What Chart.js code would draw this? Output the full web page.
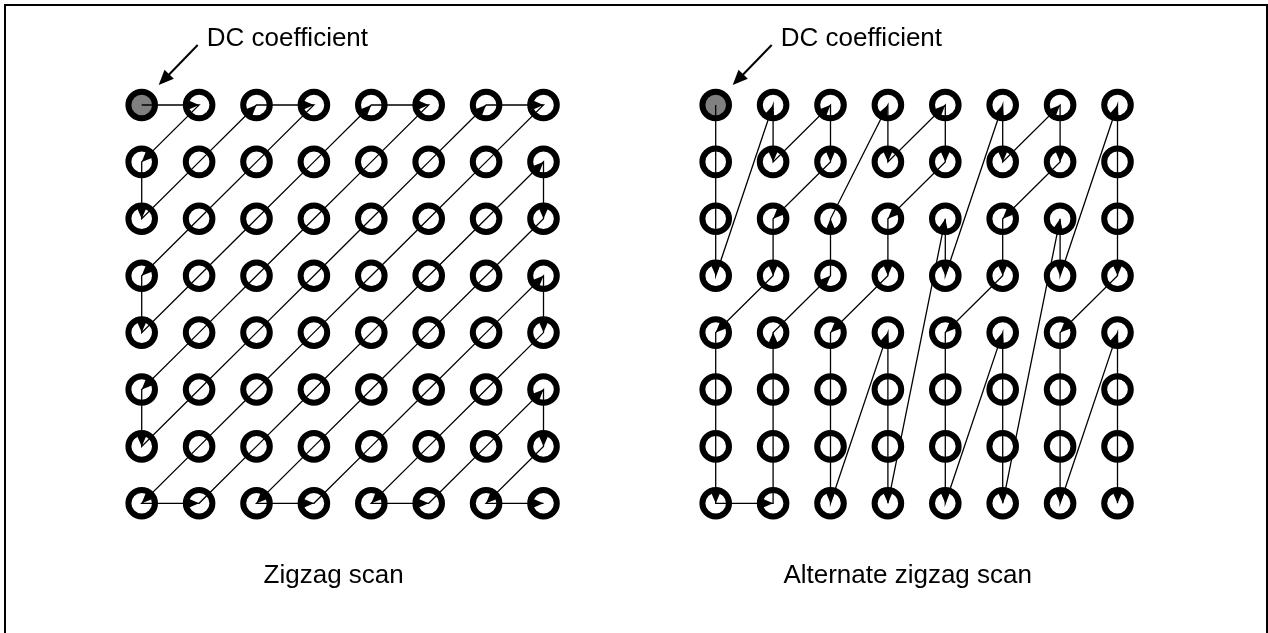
<!doctype html>
<html>

<head>
    <title>Zigzag scan</title>
    <script src="https://cdn.jsdelivr.net/npm/chart.js"></script>
</head>

<style>
    body { margin: 0; background: #fff; }
    #wrap { position: absolute; left: 0; top: 0; width: 1268px; height: 633px; overflow: hidden; }
    #frame { position: absolute; left: 4px; top: 4px; width: 1264px; height: 700px; border: 2px solid #000; box-sizing: border-box; }
    #scan { position: absolute; left: 0; top: 0; }
    .lbl { position: absolute; font-family: "Liberation Sans", Arial, sans-serif; font-size: 26px; line-height: 26px; white-space: nowrap; color: #000; }
</style>

<body>
    <div id="wrap">
        <div id="frame"></div>
        <canvas id="scan" width="1268" height="633"></canvas>
    </div>

    <script>
        // scan orders, cell index = row * 8 + col
        var zigzagOrder = [0, 1, 8, 16, 9, 2, 3, 10, 17, 24, 32, 25, 18, 11, 4, 5, 12, 19, 26, 33, 40, 48, 41, 34, 27, 20, 13, 6, 7, 14, 21, 28,
            35, 42, 49, 56, 57, 50, 43, 36, 29, 22, 15, 23, 30, 37, 44, 51, 58, 59, 52, 45, 38, 31, 39, 46, 53, 60, 61, 54, 47, 55, 62, 63];
        var alternateOrder = [0, 8, 16, 24, 1, 9, 2, 10, 17, 25, 32, 40, 48, 56, 57, 49, 41, 33, 26, 18, 3, 11, 4, 12, 19, 27, 34, 42, 50, 58, 35, 43,
            51, 59, 20, 28, 5, 13, 6, 14, 21, 29, 36, 44, 52, 60, 37, 45, 53, 61, 22, 30, 7, 15, 23, 31, 38, 46, 54, 62, 39, 47, 55, 63];
        var panelOffsets = [0, 10];
        var panelTitles = ['Zigzag scan', 'Alternate zigzag scan'];
        var dcLabel = 'DC coefficient';
        var gridSize = 8;

        function cell(k, off) {
            return { x: (k % gridSize) + off, y: Math.floor(k / gridSize) };
        }

        var circles = [];
        var circleFill = [];
        panelOffsets.forEach(function (off) {
            for (var k = 0; k < gridSize * gridSize; k++) {
                circles.push(cell(k, off));
                circleFill.push(k == 0 ? '#808080' : '#ffffff');
            }
        });

        // pixel layout
        var colStep = 57.4, rowStep = 56.9, x0 = 141.7, y0 = 105;

        function gcd(a, b) { a = Math.abs(a); b = Math.abs(b); while (b) { var t = b; b = a % b; a = t; } return a || 1; }
        function dirKey(p, q) {
            var dx = q.x - p.x, dy = q.y - p.y, g = gcd(dx, dy);
            return (dx / g) + ',' + (dy / g);
        }

        function arrowHead(ctx, tx, ty, fx, fy, len, hw) {
            var dx = tx - fx, dy = ty - fy, d = Math.sqrt(dx * dx + dy * dy);
            var ux = dx / d, uy = dy / d;
            ctx.beginPath();
            ctx.moveTo(tx, ty);
            ctx.lineTo(tx - ux * len - uy * hw, ty - uy * len + ux * hw);
            ctx.lineTo(tx - ux * len + uy * hw, ty - uy * len - ux * hw);
            ctx.closePath();
            ctx.fill();
        }

        var scanArrows = {
            id: 'scanArrows',
            afterDatasetsDraw: function (chart) {
                var ctx = chart.ctx;
                ctx.save();
                ctx.fillStyle = '#000';
                ctx.strokeStyle = '#000';
                chart.data.datasets.forEach(function (ds, i) {
                    if (!ds.arrows) return;
                    var pts = chart.getDatasetMeta(i).data;
                    var d = ds.data;
                    for (var j = 1; j < d.length; j++) {
                        var last = j == d.length - 1 || dirKey(d[j - 1], d[j]) != dirKey(d[j], d[j + 1]);
                        if (last) arrowHead(ctx, pts[j].x, pts[j].y, pts[j - 1].x, pts[j - 1].y, 15, 6.5);
                    }
                });
                // DC coefficient pointers
                var xs = chart.scales.x, ys = chart.scales.y;
                panelOffsets.forEach(function (off) {
                    var px = xs.getPixelForValue(off), py = ys.getPixelForValue(0);
                    ctx.lineWidth = 2;
                    ctx.beginPath();
                    ctx.moveTo(px + 56, py - 60);
                    ctx.lineTo(px + 24, py - 27);
                    ctx.stroke();
                    arrowHead(ctx, px + 17, py - 20, px + 56, py - 60, 15, 6.5);
                });
                ctx.restore();
            }
        };

        var grafico = new Chart(document.getElementById('scan').getContext('2d'), {
            type: 'scatter',
            data: {
                datasets: [{
                    label: 'Zigzag',
                    data: zigzagOrder.map(function (k) { return cell(k, panelOffsets[0]); }),
                    showLine: true,
                    borderColor: '#000',
                    borderWidth: 1.3,
                    pointRadius: 0,
                    arrows: true
                }, {
                    label: 'Alternate',
                    data: alternateOrder.map(function (k) { return cell(k, panelOffsets[1]); }),
                    showLine: true,
                    borderColor: '#000',
                    borderWidth: 1.3,
                    pointRadius: 0,
                    arrows: true
                }, {
                    label: 'Coefficients',
                    data: circles,
                    pointRadius: 13.3,
                    pointBorderWidth: 6,
                    pointBorderColor: '#000',
                    pointBackgroundColor: circleFill
                }]
            },
            options: {
                responsive: false,
                animation: false,
                events: [],
                layout: { padding: 0, autoPadding: false },
                plugins: { legend: { display: false }, tooltip: { enabled: false } },
                scales: {
                    x: { type: 'linear', display: false, min: -x0 / colStep, max: (1268 - x0) / colStep },
                    y: { type: 'linear', display: false, reverse: true, min: -y0 / rowStep, max: (633 - y0) / rowStep }
                }
            },
            plugins: [scanArrows]
        });

        // text labels placed from the chart scales
        var wrap = document.getElementById('wrap');
        panelOffsets.forEach(function (off, i) {
            var px = grafico.scales.x.getPixelForValue(off);
            var py = grafico.scales.y.getPixelForValue(0);
            var dc = document.createElement('span');
            dc.className = 'lbl';
            dc.textContent = dcLabel;
            dc.style.left = (px + 65) + 'px';
            dc.style.top = (py - 81) + 'px';
            wrap.appendChild(dc);

            var t = document.createElement('span');
            t.className = 'lbl';
            t.textContent = panelTitles[i];
            t.style.left = (px + 192) + 'px';
            t.style.top = (py + 456) + 'px';
            t.style.transform = 'translateX(-50%)';
            wrap.appendChild(t);
        });
    </script>
</body>

</html>
